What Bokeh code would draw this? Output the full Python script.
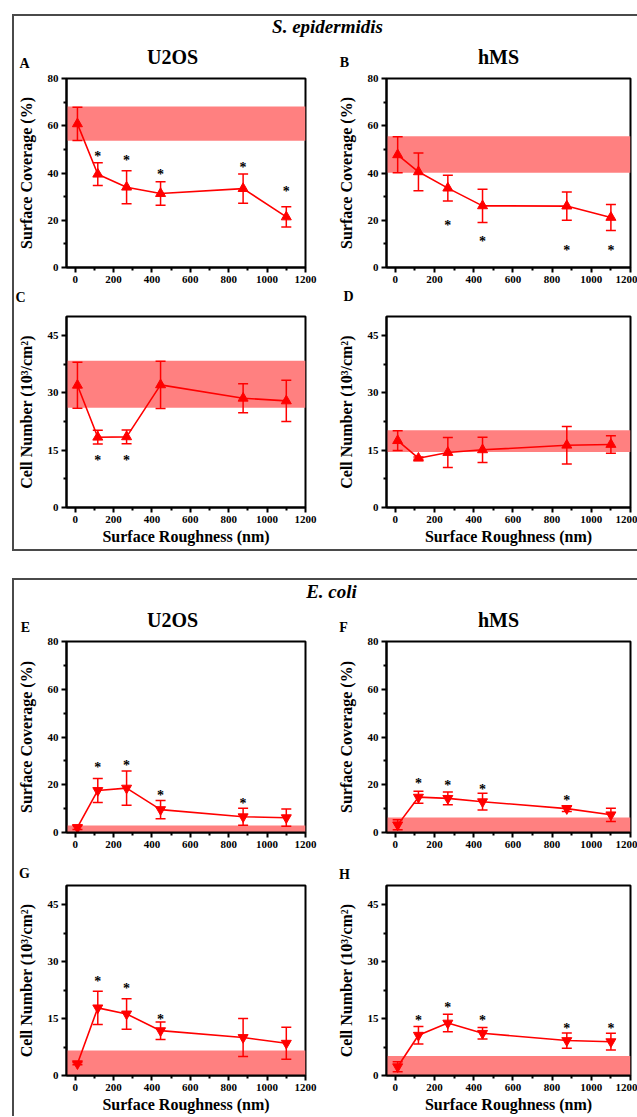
from bokeh.plotting import figure
from bokeh.models import Range1d, FixedTicker, Whisker, TeeHead, BoxAnnotation, Label, ColumnDataSource
from bokeh.layouts import column, row
from bokeh.embed import file_html
from bokeh.resources import INLINE
from bokeh.core.properties import value

# ---------------- data ----------------
roughness = [12, 118, 268, 445, 875, 1100]

# S. epidermidis - U2OS surface coverage (A)
a_mean = [60.8, 39.5, 34.0, 31.3, 33.4, 21.4]
a_sd = [7.0, 4.8, 7.0, 5.0, 6.2, 4.3]
a_band = [53.6, 68.2]
a_star_idx = [1, 2, 3, 4, 5]
a_star_y = [48.8, 47.0, 41.0, 44.0, 33.8]

# S. epidermidis - hMS surface coverage (B)
b_mean = [47.7, 40.5, 33.6, 26.1, 26.0, 21.2]
b_sd = [7.6, 8.0, 5.5, 7.0, 6.0, 5.5]
b_band = [40.1, 55.6]
b_star_idx = [2, 3, 4, 5]
b_star_y = [19.5, 12.9, 8.7, 9.0]

# S. epidermidis - U2OS cell number (C)
c_mean = [32.0, 18.4, 18.5, 32.1, 28.6, 27.9]
c_sd = [6.0, 1.8, 1.8, 6.2, 3.8, 5.4]
c_band = [26.1, 38.4]
c_star_idx = [1, 2]
c_star_y = [13.4, 13.4]

# S. epidermidis - hMS cell number (D)
d_mean = [17.5, 12.9, 14.4, 15.1, 16.3, 16.5]
d_sd = [2.6, 0.3, 3.9, 3.3, 4.9, 2.3]
d_band = [14.5, 20.2]
d_star_idx = []
d_star_y = []

# E. coli - U2OS surface coverage (E)
e_mean = [2.1, 17.6, 18.6, 9.6, 6.6, 6.2]
e_sd = [0.8, 5.0, 7.2, 3.8, 3.6, 3.6]
e_band = [0.0, 2.9]
e_star_idx = [1, 2, 3, 4]
e_star_y = [28.8, 29.9, 17.0, 13.8]

# E. coli - hMS surface coverage (F)
f_mean = [3.2, 14.8, 14.3, 12.9, 10.0, 7.4]
f_sd = [2.1, 2.5, 2.7, 3.5, 1.2, 2.8]
f_band = [0.0, 6.3]
f_star_idx = [1, 2, 3, 4]
f_star_y = [22.2, 21.2, 19.6, 15.0]

# E. coli - U2OS cell number (G)
g_mean = [3.1, 17.8, 16.2, 11.8, 10.0, 8.5]
g_sd = [0.3, 4.4, 4.0, 2.3, 5.0, 4.2]
g_band = [0.0, 6.6]
g_star_idx = [1, 2, 3]
g_star_y = [25.7, 23.9, 15.8]

# E. coli - hMS cell number (H)
h_mean = [2.3, 10.6, 13.8, 11.1, 9.2, 8.9]
h_sd = [1.3, 2.3, 2.3, 1.5, 2.0, 2.2]
h_band = [0.0, 5.1]
h_star_idx = [1, 2, 3, 4, 5]
h_star_y = [15.6, 19.0, 15.6, 13.5, 13.5]

x_major = [0, 200, 400, 600, 800, 1000, 1200]
x_minor = [100, 300, 500, 700, 900, 1100]
cov_major = [0, 20, 40, 60, 80]
cov_minor = [10, 30, 50, 70]
num_major = [0, 15, 30, 45]
num_minor = [7.5, 22.5, 37.5]

cov_label = "Surface Coverage (%)"
num_label = "Cell Number (10³/cm²)"
x_label = "Surface Roughness (nm)"

# ---------------- style / layout ----------------
FONT = "Liberation Serif"
RED = "#ff0000"
BAND = "#ff8080"
INNER_W = 623

COLS = {"L": dict(width=320, left=47, right=29),
        "R": dict(width=303, left=51, right=7)}
ROWS = {1: dict(height=219, top=7, bottom=23),
        2: dict(height=239, top=6, bottom=42),
        3: dict(height=222, top=6, bottom=25),
        4: dict(height=233, top=2, bottom=41)}


def style_axis(ax):
    ax.axis_line_width = 2
    ax.axis_line_color = "black"
    ax.major_tick_line_width = 2
    ax.minor_tick_line_width = 2
    ax.major_tick_line_color = "black"
    ax.minor_tick_line_color = "black"
    ax.major_tick_in = 0
    ax.major_tick_out = 5
    ax.minor_tick_in = 0
    ax.minor_tick_out = 3
    ax.major_label_text_font = FONT
    ax.major_label_text_font_style = "bold"
    ax.major_label_text_font_size = "11px"
    ax.major_label_text_color = "black"
    ax.axis_label_text_font = FONT
    ax.axis_label_text_font_style = "bold"
    ax.axis_label_text_font_size = "16px"
    ax.axis_label_text_color = "black"


def panel(col, rw, mean, sd, band, star_idx, star_y, ymax, ymaj, ymin, ylabel,
          marker, show_xlabel=False):
    c = COLS[col]
    r = ROWS[rw]
    p = figure(width=c["width"], height=r["height"], title=None,
               x_range=Range1d(-45, 1200), y_range=Range1d(0, ymax),
               output_backend="svg", toolbar_location=None,
               min_border_left=c["left"], min_border_right=c["right"],
               min_border_top=r["top"], min_border_bottom=r["bottom"],
               background_fill_color="white", border_fill_color="white",
               outline_line_color="black", outline_line_width=2)
    p.xgrid.visible = False
    p.ygrid.visible = False
    p.xaxis.ticker = FixedTicker(ticks=x_major, minor_ticks=x_minor)
    p.yaxis.ticker = FixedTicker(ticks=ymaj, minor_ticks=ymin)
    style_axis(p.xaxis[0])
    style_axis(p.yaxis[0])
    p.yaxis.axis_label = ylabel
    p.yaxis.major_label_standoff = 3
    p.yaxis.axis_label_standoff = 10
    p.xaxis.major_label_standoff = 3
    p.xaxis.axis_label_standoff = 2
    if show_xlabel:
        p.xaxis.axis_label = x_label

    p.add_layout(BoxAnnotation(bottom=band[0], top=band[1], fill_color=BAND,
                               fill_alpha=1.0, line_color=None, level="underlay"))
    lower = [m - s for m, s in zip(mean, sd)]
    upper = [m + s for m, s in zip(mean, sd)]
    src = ColumnDataSource(dict(x=roughness, y=mean, lower=lower, upper=upper))
    p.add_layout(Whisker(source=src, base="x", lower="lower", upper="upper",
                         line_color=RED, line_width=1.5,
                         lower_head=TeeHead(size=10, line_color=RED, line_width=1.5),
                         upper_head=TeeHead(size=10, line_color=RED, line_width=1.5)))
    p.line("x", "y", source=src, line_color=RED, line_width=1.6)
    p.scatter("x", "y", source=src, marker=marker, size=10, fill_color=RED, line_color=RED)
    if star_idx:
        p.text(x=[roughness[i] for i in star_idx], y=star_y, text=["*"] * len(star_idx),
               text_font=value(FONT), text_font_style="bold", text_font_size="14px",
               text_align="center", text_baseline="middle", text_color="black", y_offset=4)
    return p


def strip(height, items):
    """A text-only band spanning the section width; x/y are pixels from the strip's top-left."""
    s = figure(width=INNER_W, height=height, title=None,
               x_range=Range1d(0, INNER_W), y_range=Range1d(height, 0),
               output_backend="svg", toolbar_location=None, min_border=0,
               x_axis_location=None, y_axis_location=None, outline_line_color=None)
    s.grid.visible = False
    for text, x, y, size, style in items:
        s.add_layout(Label(x=x, y=y, text=text, text_font=FONT, text_font_style=style,
                           text_font_size=size, text_align="center", text_baseline="middle",
                           text_color="black"))
    return s


# strips (inner left edge of each section is page x = 14)
s1 = strip(55, [("S. epidermidis", 327 - 14, 26 - 16, "19px", "bold italic"),
                ("U2OS", 172 - 14, 56 - 16, "20px", "bold"),
                ("hMS", 498 - 14, 56 - 16, "20px", "bold"),
                ("A", 24 - 14, 63 - 16, "14px", "bold"),
                ("B", 344 - 14, 62 - 16, "14px", "bold")])
s2 = strip(20, [("C", 20 - 14, 297 - 290, "14px", "bold"),
                ("D", 348 - 14, 296 - 290, "14px", "bold")])
s3 = strip(55, [("E. coli", 331 - 14, 591 - 580, "19px", "bold italic"),
                ("U2OS", 172 - 14, 619 - 580, "20px", "bold"),
                ("hMS", 498 - 14, 619 - 580, "20px", "bold"),
                ("E", 25 - 14, 627 - 580, "14px", "bold"),
                ("F", 343 - 14, 627 - 580, "14px", "bold")])
s4 = strip(26, [("G", 24 - 14, 873 - 857, "14px", "bold"),
                ("H", 344 - 14, 874 - 857, "14px", "bold")])

pA = panel("L", 1, a_mean, a_sd, a_band, a_star_idx, a_star_y, 80, cov_major, cov_minor, cov_label, "triangle")
pB = panel("R", 1, b_mean, b_sd, b_band, b_star_idx, b_star_y, 80, cov_major, cov_minor, cov_label, "triangle")
pC = panel("L", 2, c_mean, c_sd, c_band, c_star_idx, c_star_y, 50, num_major, num_minor, num_label,
           "triangle", show_xlabel=True)
pD = panel("R", 2, d_mean, d_sd, d_band, d_star_idx, d_star_y, 50, num_major, num_minor, num_label,
           "triangle", show_xlabel=True)
pE = panel("L", 3, e_mean, e_sd, e_band, e_star_idx, e_star_y, 80, cov_major, cov_minor, cov_label,
           "inverted_triangle")
pF = panel("R", 3, f_mean, f_sd, f_band, f_star_idx, f_star_y, 80, cov_major, cov_minor, cov_label,
           "inverted_triangle")
pG = panel("L", 4, g_mean, g_sd, g_band, g_star_idx, g_star_y, 50, num_major, num_minor, num_label,
           "inverted_triangle", show_xlabel=True)
pH = panel("R", 4, h_mean, h_sd, h_band, h_star_idx, h_star_y, 50, num_major, num_minor, num_label,
           "inverted_triangle", show_xlabel=True)

border = "2px solid #4a4a4a"
sec1 = column(s1, row(pA, pB), s2, row(pC, pD), margin=(14, 0, 0, 12),
              styles={"border-left": border, "border-top": border, "border-bottom": border})
sec2 = column(s3, row(pE, pF), s4, row(pG, pH), margin=(27, 0, 0, 12),
              styles={"border-left": border, "border-top": border})
root = column(sec1, sec2)

open("out.html", "w").write(file_html(root, INLINE))
